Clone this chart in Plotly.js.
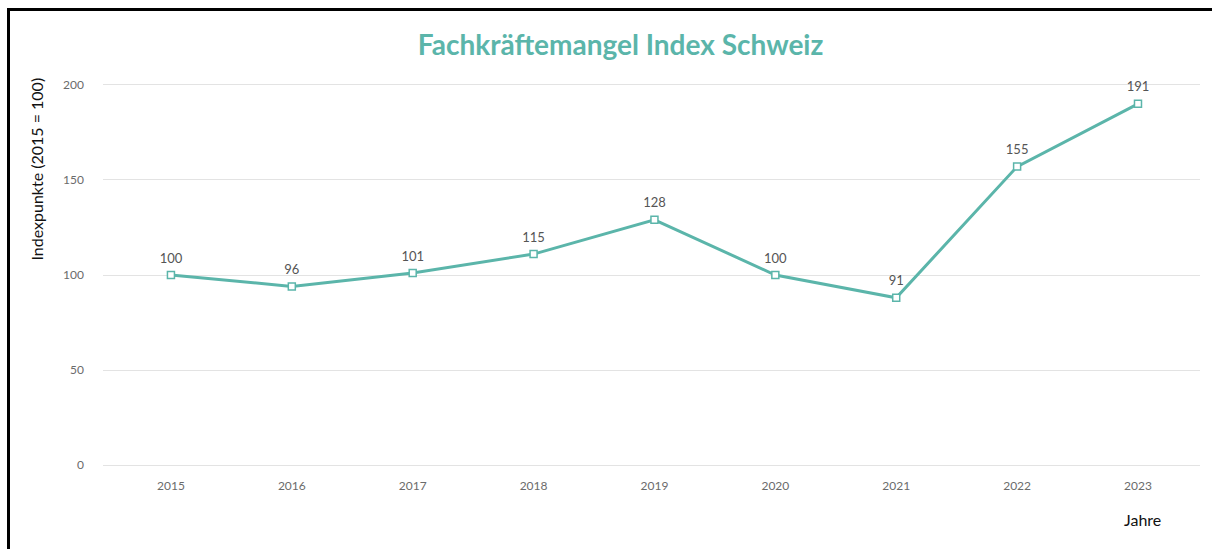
<!DOCTYPE html>
<html>
<head>
<meta charset="utf-8">
<script src="https://cdn.plot.ly/plotly-3.0.1.min.js"></script>
<style>
html,body{margin:0;padding:0;background:#fff;}
#chart{position:absolute;left:0;top:0;width:1212px;height:549px;}
#frame{position:absolute;left:7px;top:8px;width:1220px;height:560px;border-left:3px solid #000;border-top:3px solid #000;pointer-events:none;}
</style>
</head>
<body>
<div id="chart"></div>
<div id="frame"></div>
<script>
const years = ['2015','2016','2017','2018','2019','2020','2021','2022','2023'];
const indexValues = [100, 94, 101, 111, 129, 100, 88, 157, 190];
const valueLabels = ['100','96','101','115','128','100','91','155','191'];
const yTicks = [0, 50, 100, 150, 200];

const teal = '#5bb5aa';
const fam = 'Lato, "Open Sans", sans-serif';
const tickFont = {family: fam, size: 12, color: '#6b6b6b'};

const lineTrace = {
  type: 'scatter',
  mode: 'lines+markers',
  x: years,
  y: indexValues,
  line: {color: teal, width: 3},
  marker: {symbol: 'square', size: 7, color: '#ffffff', line: {color: teal, width: 1.5}},
  hoverinfo: 'skip',
  cliponaxis: false
};

const labelTrace = {
  type: 'scatter',
  mode: 'markers+text',
  x: years,
  y: indexValues,
  text: valueLabels,
  textposition: 'top center',
  textfont: {family: fam, size: 13, color: '#555'},
  marker: {size: 13, opacity: 0},
  hoverinfo: 'skip',
  cliponaxis: false
};

const layout = {
  width: 1212,
  height: 549,
  margin: {l: 103, r: 12, t: 81, b: 80},
  paper_bgcolor: '#ffffff',
  plot_bgcolor: '#ffffff',
  showlegend: false,
  title: {
    text: '<b>Fachkräftemangel Index Schweiz</b>',
    font: {family: fam, size: 28, color: teal},
    x: 0.512, xanchor: 'center', y: 0.918, yanchor: 'middle'
  },
  xaxis: {
    type: 'category',
    range: [-0.562, 8.513],
    showgrid: false,
    zeroline: false,
    showline: false,
    ticks: '',
    tickfont: tickFont,
    ticklabelstandoff: 8
  },
  yaxis: {
    range: [-2, 202],
    tickvals: yTicks,
    ticktext: yTicks.map(String),
    showgrid: true,
    gridcolor: '#e3e3e3',
    gridwidth: 1,
    zeroline: false,
    showline: false,
    ticks: '',
    tickfont: tickFont,
    ticklabelstandoff: 18
  },
  annotations: [
    {
      text: 'Indexpunkte (2015 = 100)',
      xref: 'paper', yref: 'paper',
      x: -0.061, xanchor: 'center',
      y: 0.772, yanchor: 'middle',
      textangle: -90,
      showarrow: false,
      font: {family: fam, size: 16, color: '#111'}
    },
    {
      text: 'Jahre',
      xref: 'paper', yref: 'paper',
      x: 0.948, xanchor: 'center',
      y: -0.13, yanchor: 'middle',
      showarrow: false,
      font: {family: fam, size: 16, color: '#111'}
    }
  ]
};

Plotly.newPlot('chart', [lineTrace, labelTrace], layout, {displayModeBar: false, staticPlot: true});
</script>
</body>
</html>
